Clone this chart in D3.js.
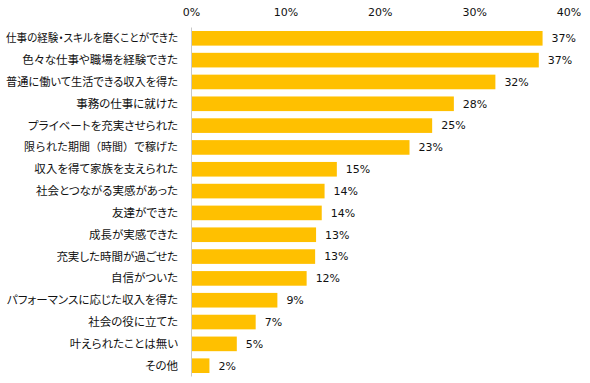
<!DOCTYPE html>
<html><head><meta charset="utf-8">
<script src="https://cdn.jsdelivr.net/npm/d3@7"></script>
<style>body{margin:0;background:#fff} .cat{font-feature-settings:"palt" 1;} .cat.nopalt{font-feature-settings:normal;}</style>
</head><body>
<svg id="c" width="590" height="383"></svg>
<script>
const categories = ["仕事の経験・スキルを磨くことができた","色々な仕事や職場を経験できた","普通に働いて生活できる収入を得た","事務の仕事に就けた","プライベートを充実させられた","限られた期間（時間）で稼げた","収入を得て家族を支えられた","社会とつながる実感があった","友達ができた","成長が実感できた","充実した時間が過ごせた","自信がついた","パフォーマンスに応じた収入を得た","社会の役に立てた","叶えられたことは無い","その他"];
const values = [37.2,36.8,32.2,27.8,25.5,23.1,15.4,14.1,13.8,13.2,13.1,12.2,9.1,6.8,4.8,1.9];
const valueLabels = ["37%","37%","32%","28%","25%","23%","15%","14%","14%","13%","13%","12%","9%","7%","5%","2%"];
const ticks = [0,10,20,30,40];

const svg = d3.select("#c");
const x = d3.scaleLinear().domain([0,40]).range([191.5,569]);
const y = d3.scaleBand().domain(categories).range([27.5,376.5]).paddingInner(0.33).paddingOuter(0.16);

svg.selectAll("rect.bar").data(values).join("rect")
  .attr("x", x(0)).attr("y",(d,i)=>y(categories[i]))
  .attr("width", d=>x(d)-x(0)).attr("height", y.bandwidth())
  .attr("fill","#FFC000");

svg.append("line").attr("x1",x(0)).attr("x2",x(0)).attr("y1",27.5).attr("y2",376.5)
  .attr("stroke","#c8c8c8").attr("stroke-width",1);

svg.selectAll("text.tick").data(ticks).join("text")
  .attr("x",d=>x(d)).attr("y",12).attr("dy","0.35em").attr("text-anchor","middle")
  .attr("font-family","DejaVu Sans").attr("font-size",11).attr("fill","#111")
  .text(d=>d+"%");

const cat = svg.selectAll("text.cat").data(categories).join("text")
  .attr("class",d=>d.includes("（")?"cat nopalt":"cat")
  .attr("x",178).attr("y",d=>y(d)+y.bandwidth()/2).attr("dy","0.35em").attr("text-anchor","end")
  .attr("font-family","'Noto Sans CJK JP'").attr("font-size",d=>d.includes("（")?11:11.5).attr("fill","#111")
  .text(d=>d);
cat.each(function(){
  const w = this.getComputedTextLength();
  if (w > 172) d3.select(this).attr("textLength",172).attr("lengthAdjust","spacingAndGlyphs");
});

svg.selectAll("text.val").data(values).join("text")
  .attr("x",d=>x(d)+9).attr("y",(d,i)=>y(categories[i])+y.bandwidth()/2).attr("dy","0.35em")
  .attr("font-family","DejaVu Sans").attr("font-size",11).attr("fill","#111")
  .text((d,i)=>valueLabels[i]);
</script>
</body></html>
